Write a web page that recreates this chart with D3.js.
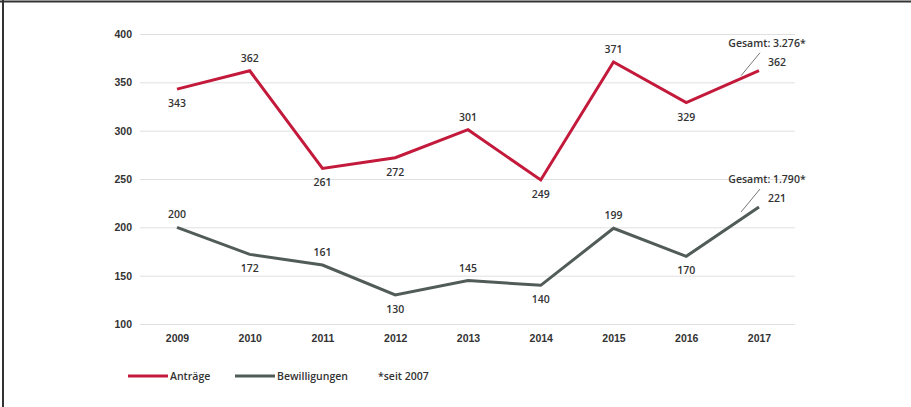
<!DOCTYPE html>
<html>
<head>
<meta charset="utf-8">
<script src="https://cdn.jsdelivr.net/npm/d3@7"></script>
<style>
body{margin:0;background:#fff;}
svg{display:block;font-family:'Open Sans',sans-serif;}
</style>
</head>
<body>
<div id="plot"></div>
<script>
var years = [2009,2010,2011,2012,2013,2014,2015,2016,2017];
var antraege = [343,362,261,272,301,249,371,329,362];
var bewilligungen = [200,172,161,130,145,140,199,170,221];
// label side for each point: 1 = above, -1 = below, 0 = right
var antraegePos = [-1,1,-1,-1,1,-1,1,-1,0];
var bewilligungenPos = [1,-1,1,-1,1,-1,1,-1,0];
var yTicks = [100,150,200,250,300,350,400];
var totals = ['Gesamt: 3.276*','Gesamt: 1.790*'];
var legendLabels = ['Anträge','Bewilligungen'];
var footnote = '*seit 2007';

var W = 911, H = 407;
var m = {t:34,l:140,r:116,b:83},
	w = W - m.l - m.r,
	h = H - m.t - m.b;
var fs = '10.5px';

var svg = d3.select('#plot').append('svg')
	.attr('width',W).attr('height',H);

// frame
svg.append('line').attr('x1',0).attr('x2',W).attr('y1',1.5).attr('y2',1.5)
	.style('stroke','#333').style('stroke-width',2);
svg.append('line').attr('x1',3).attr('x2',3).attr('y1',0).attr('y2',H)
	.style('stroke','#333').style('stroke-width',2);

var plot = svg.append('g').attr('transform','translate('+m.l+','+m.t+')');

var x = d3.scalePoint().domain(years).range([37,619]);
var y = d3.scaleLinear().domain([100,400]).range([h,0]);

// gridlines + y labels
var yAxis = d3.axisLeft(y).tickValues(yTicks).tickSize(-w).tickPadding(8);
plot.append('g').call(yAxis)
	.call(function(g){
		g.select('.domain').remove();
		g.selectAll('.tick line').style('stroke','#e0e0e0');
		g.selectAll('.tick text').style('font-size',fs).style('fill','#333').style('font-weight',600);
	});

// x labels
var xAxis = d3.axisBottom(x).tickSize(0).tickPadding(11);
plot.append('g').attr('transform','translate(0,'+h+')').call(xAxis)
	.call(function(g){
		g.select('.domain').remove();
		g.selectAll('.tick text').style('font-size',fs).style('fill','#333').style('font-weight',600);
	});

var line = d3.line()
	.x(function(d,i){return x(years[i])})
	.y(function(d){return y(d)});

var series = [
	{values:antraege,pos:antraegePos,color:'#c31a3c',total:totals[0]},
	{values:bewilligungen,pos:bewilligungenPos,color:'#515c59',total:totals[1]}
];

series.forEach(function(s){
	plot.append('path').datum(s.values)
		.attr('d',line)
		.style('fill','none').style('stroke',s.color).style('stroke-width',3)
		.style('stroke-linejoin','miter');

	plot.selectAll(null).data(s.values).enter().append('text')
		.attr('x',function(d,i){return s.pos[i]===0 ? x(years[i])+9 : x(years[i])})
		.attr('y',function(d,i){
			var p = s.pos[i];
			return p===1 ? y(d)-9 : (p===-1 ? y(d)+18 : y(d)-5);
		})
		.attr('text-anchor',function(d,i){return s.pos[i]===0 ? 'start' : 'middle'})
		.style('font-size',fs).style('font-weight',600).style('fill','#333')
		.text(function(d){return d});

	// total annotation with leader line
	var last = s.values.length-1,
		px = x(years[last]), py = y(s.values[last]);
	plot.append('line')
		.attr('x1',px-18).attr('y1',py+5)
		.attr('x2',px+1).attr('y2',py-18)
		.style('stroke','#555').style('stroke-width',0.8);
	plot.append('text')
		.attr('x',px+8).attr('y',py-24)
		.attr('text-anchor','middle')
		.style('font-size',fs).style('font-weight',600).style('fill','#333')
		.text(s.total);
});

// legend
var legend = svg.append('g').attr('transform','translate(128,376)');
var legendX = [0,107];
series.forEach(function(s,i){
	var g = legend.append('g').attr('transform','translate('+legendX[i]+',0)');
	g.append('line').attr('x1',0).attr('x2',40).attr('y1',0).attr('y2',0)
		.style('stroke',s.color).style('stroke-width',3);
	g.append('text').attr('x',42).attr('y',4)
		.style('font-size',fs).style('font-weight',600).style('fill','#333')
		.text(legendLabels[i]);
});
legend.append('text').attr('x',250).attr('y',4)
	.style('font-size',fs).style('font-weight',600).style('fill','#333')
	.text(footnote);
</script>
</body>
</html>
